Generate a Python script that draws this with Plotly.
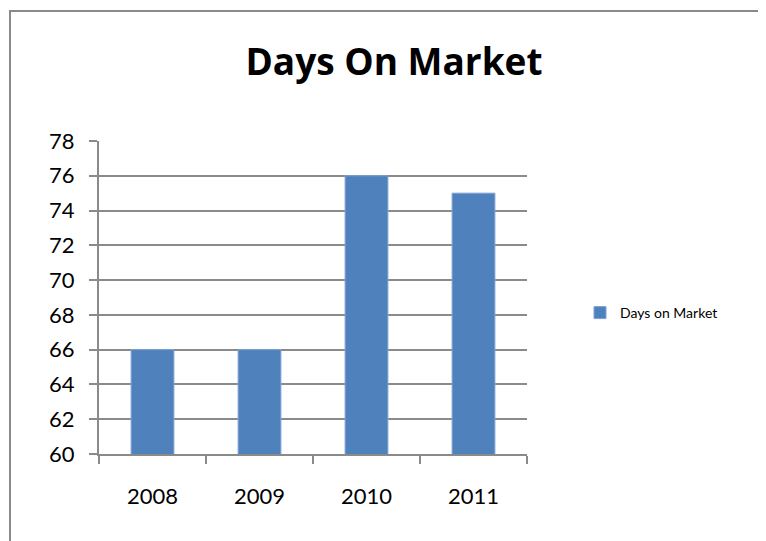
import plotly.graph_objects as go

years = ["2008", "2009", "2010", "2011"]
days = [66, 66, 76, 75]
series_name = "Days on Market"
title_text = "Days On Market"

# page has an 8px body margin; figure is sized to fit the window
W, H = 758, 533
L, R, T, B = 91, 239, 133, 87
pw = W - L - R
ph = H - T - B

fig = go.Figure()
fig.add_trace(go.Bar(
    x=years, y=days, name=series_name,
    marker=dict(color="#4F81BD", line=dict(color="#7FA3D3", width=1)),
    showlegend=True,
))

grid = "#8A8A8A"
fig.update_layout(
    width=W, height=H, autosize=False,
    margin=dict(l=L, r=R, t=T, b=B),
    paper_bgcolor="white", plot_bgcolor="white",
    font=dict(family="Lato", color="black"),
    bargap=0.6,
    title=dict(text="<b>" + title_text + "</b>", x=386 / W, xref="container", xanchor="center",
               y=1 - 54 / H, yref="container", yanchor="middle",
               font=dict(family="Open Sans", size=37, color="black")),
    showlegend=True,
    legend=dict(x=(572 - L) / pw, xanchor="left", y=(H - B - 305) / ph, yanchor="middle",
                font=dict(family="Lato", size=14, color="black"),
                bgcolor="rgba(0,0,0,0)"),
    xaxis=dict(type="category", showline=True, linecolor=grid, linewidth=2,
               ticks="outside", tickson="boundaries", ticklen=8, tickcolor=grid, tickwidth=2,
               showgrid=False, tickfont=dict(family="Lato", size=22, color="black"),
               ticklabelstandoff=22),
    yaxis=dict(range=[60, 78], dtick=2, showline=True, linecolor=grid, linewidth=2,
               ticks="outside", ticklen=8, tickcolor=grid, tickwidth=2,
               showgrid=True, gridcolor=grid, gridwidth=1.5, zeroline=False,
               tickfont=dict(family="Lato", size=22, color="black"),
               ticklabelstandoff=10),
)

fig.add_shape(type="rect", xref="paper", yref="paper",
              x0=(2 - L) / pw, x1=(W + 20 - L) / pw,
              y0=(H - B - (H + 20)) / ph, y1=(H - B - 3) / ph,
              line=dict(color="#8A8A8A", width=2), fillcolor="rgba(0,0,0,0)", layer="below")

fig.write_html("out.html")
